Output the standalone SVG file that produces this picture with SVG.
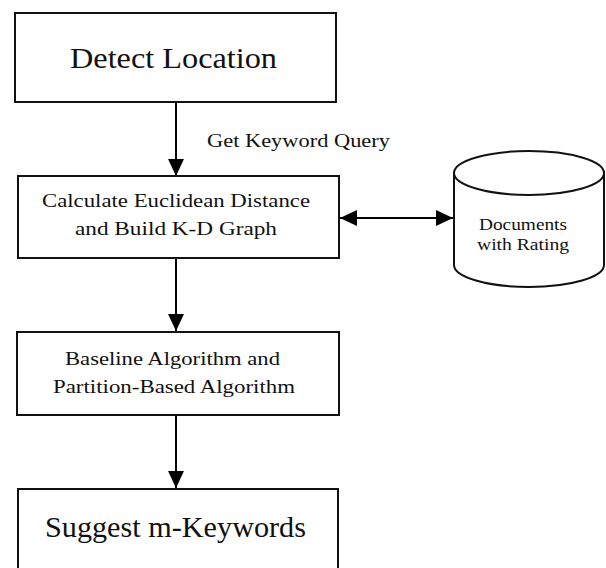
<svg xmlns="http://www.w3.org/2000/svg" width="606" height="568" viewBox="0 0 606 568">
  <style>
    .box { fill: #ffffff; stroke: #111111; stroke-width: 2; }
    .db { fill: #ffffff; stroke: #111111; stroke-width: 2; }
    .edge { fill: none; stroke: #000000; stroke-width: 2; }
    text { font-family: "Liberation Serif", "Times New Roman", serif; fill: #111111; }
    .big { font-size: 30px; }
    .mid { font-size: 19px; }
    .small { font-size: 16px; }
  </style>
  <defs>
    <marker id="arrow" markerUnits="userSpaceOnUse" markerWidth="18" markerHeight="18" viewBox="0 0 18 18" refX="17" refY="9" orient="auto-start-reverse">
      <path d="M0,1 L17,9 L0,17 Z" fill="#000000"/>
    </marker>
  </defs>
  <rect width="606" height="568" fill="#ffffff"/>

  <g id="connectors">
    <line class="edge" x1="176" y1="102" x2="176" y2="176" marker-end="url(#arrow)"/>
    <line class="edge" x1="176" y1="258" x2="176" y2="331" marker-end="url(#arrow)"/>
    <line class="edge" x1="176" y1="415" x2="176" y2="488" marker-end="url(#arrow)"/>
    <line class="edge" x1="340" y1="218" x2="453" y2="218" marker-start="url(#arrow)" marker-end="url(#arrow)"/>
    <text class="mid" x="207" y="147" textLength="183" lengthAdjust="spacingAndGlyphs">Get Keyword Query</text>
  </g>

  <g id="detect-location">
    <rect class="box" x="15" y="13" width="321" height="89"/>
    <text class="big" x="70" y="68" textLength="207" lengthAdjust="spacingAndGlyphs">Detect Location</text>
  </g>

  <g id="calculate-distance">
    <rect class="box" x="18" y="176" width="321" height="82"/>
    <text class="mid" x="42" y="207" textLength="268" lengthAdjust="spacingAndGlyphs">Calculate Euclidean Distance</text>
    <text class="mid" x="75" y="235" textLength="202" lengthAdjust="spacingAndGlyphs">and Build K-D Graph</text>
  </g>

  <g id="documents">
    <path class="db" d="M454,173 L454,265 A75,22 0 0 0 604,265 L604,173"/>
    <ellipse class="db" cx="529" cy="173" rx="75" ry="22"/>
    <text class="small" x="479" y="230" textLength="88" lengthAdjust="spacingAndGlyphs">Documents</text>
    <text class="small" x="477" y="250" textLength="92" lengthAdjust="spacingAndGlyphs">with Rating</text>
  </g>

  <g id="algorithms">
    <rect class="box" x="17" y="332" width="322" height="83"/>
    <text class="mid" x="65" y="365" textLength="215" lengthAdjust="spacingAndGlyphs">Baseline Algorithm and</text>
    <text class="mid" x="53" y="393" textLength="242" lengthAdjust="spacingAndGlyphs">Partition-Based Algorithm</text>
  </g>

  <g id="suggest-keywords">
    <rect class="box" x="18" y="489" width="320" height="100"/>
    <text class="big" x="45" y="537" textLength="261" lengthAdjust="spacingAndGlyphs">Suggest m-Keywords</text>
  </g>
</svg>
